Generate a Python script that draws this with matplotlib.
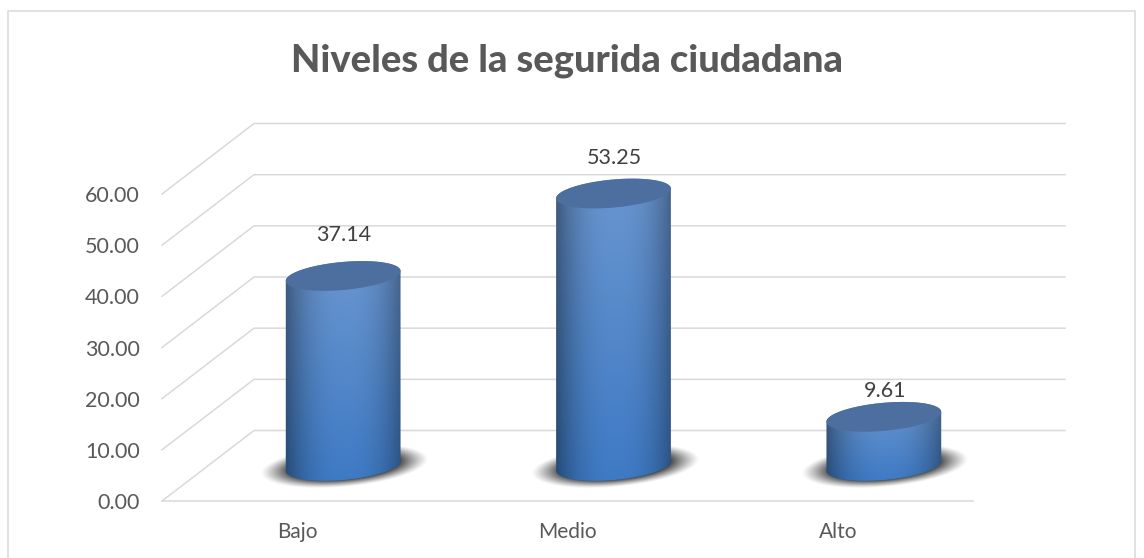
import numpy as np
import matplotlib
matplotlib.use("Agg")
import matplotlib.pyplot as plt
from matplotlib.patches import Polygon, Rectangle

# datos del grafico
categorias = ["Bajo", "Medio", "Alto"]
valores = [37.14, 53.25, 9.61]
etiquetas_y = [0, 10, 20, 30, 40, 50, 60]
titulo = "Niveles de la segurida ciudadana"

W, H = 1144, 558
plt.rcParams['font.family'] = ['Lato', 'DejaVu Sans']

fig = plt.figure(figsize=(W / 100, H / 100), dpi=100, facecolor='white')

# el eje es el plano frontal de la caja 3D
left, right, bottom, top = 162, 973, 501, 194
ax = fig.add_axes([left / W, 1 - bottom / H, (right - left) / W, (bottom - top) / H])
ax.patch.set_visible(False)
for s in ax.spines.values():
    s.set_visible(False)

px_x = (right - left) / 3      # pixeles por categoria
px_y = (bottom - top) / 60     # pixeles por unidad

# profundidad de la caja y desplazamiento de las barras
dx, dy = 92 / px_x, 70.5 / px_y
bar_dx, bar_dy = 46 / px_x, 35 / px_y
inclinacion = np.radians(5.2)
col_grid = '#d9d9d9'
lw_grid = 1.1

# rejilla
for v in etiquetas_y:
    ax.plot([-0.5, -0.5 + dx, 2.5 + dx], [v, v + dy, v + dy], color=col_grid,
            lw=lw_grid, clip_on=False, zorder=1, solid_joinstyle='miter')
ax.plot([-0.5, 2.5], [0, 0], color=col_grid, lw=lw_grid, clip_on=False, zorder=1)


def elipse(cx, cy, a, b, t):
    # elipse inclinada, a y b en pixeles, devuelve coordenadas de datos
    xp = a * np.cos(t) * np.cos(inclinacion) - b * np.sin(t) * np.sin(inclinacion)
    yp = a * np.cos(t) * np.sin(inclinacion) + b * np.sin(t) * np.cos(inclinacion)
    return cx + xp / px_x, cy + yp / px_y


def sombra(cx, cy):
    a, b = 84, 21
    xs = np.linspace(-a - 4, a + 4, 260)
    ys = np.linspace(-b - 14, b + 14, 120)
    X, Y = np.meshgrid(xs, ys)
    u = X * np.cos(inclinacion) + Y * np.sin(inclinacion)
    w = -X * np.sin(inclinacion) + Y * np.cos(inclinacion)
    r = np.sqrt((u / a) ** 2 + (w / b) ** 2)
    alpha = np.clip((1 - r) / 0.36, 0, 1) ** 1.2
    img = np.zeros(X.shape + (4,))
    img[..., :3] = 0.24
    img[..., 3] = alpha
    ax.imshow(img, origin='lower', aspect='auto', zorder=2, interpolation='bilinear',
              extent=[cx + xs[0] / px_x, cx + xs[-1] / px_x, cy + ys[0] / px_y, cy + ys[-1] / px_y])


def cilindro(cx, v):
    a, b = 57.6, 14
    y0 = bar_dy
    y1 = bar_dy + v
    t0 = np.arctan2(-b * np.sin(inclinacion), a * np.cos(inclinacion))
    sup = np.linspace(t0, t0 + np.pi, 80)      # mitad superior de la tapa
    inf = np.linspace(t0 + np.pi, t0 + 2 * np.pi, 80)  # mitad inferior de la base
    xa, ya = elipse(cx, y1, a, b, sup)
    xb, yb = elipse(cx, y0, a, b, inf)
    cuerpo = Polygon(np.column_stack([np.r_[xa, xb], np.r_[ya, yb]]), closed=True,
                     transform=ax.transData, fc='none', ec='none')
    ax.add_patch(cuerpo)

    # degradado: claro arriba y al centro, oscuro en los bordes
    n = 200
    u = np.linspace(-1, 1, n)
    vv = np.linspace(0, 1, n)
    U, V = np.meshgrid(u, vv)
    c_abajo = np.array([62, 122, 196]) / 255
    c_arriba = np.array([106, 150, 208]) / 255
    base = c_abajo + (c_arriba - c_abajo) * V[..., None]
    factor = 1 - 0.40 * np.abs(U - 0.03) ** 2.4
    img = base * factor[..., None]
    alto_px = b + 2
    ext = [cx - 60 / px_x, cx + 60 / px_x, y0 - alto_px / px_y, y1 + alto_px / px_y]
    im = ax.imshow(img, origin='lower', aspect='auto', extent=ext, zorder=3,
                   interpolation='bilinear')
    im.set_clip_box(fig.bbox)
    im.set_clip_path(cuerpo)

    # tapa
    t = np.linspace(0, 2 * np.pi, 160)
    xt, yt = elipse(cx, y1, a, b, t)
    ax.add_patch(Polygon(np.column_stack([xt, yt]), closed=True, fc='#4c6f9f', ec='none',
                         zorder=4, clip_on=False))


pos = np.arange(len(categorias))
for i, v in zip(pos, valores):
    sombra(i + bar_dx + 1 / px_x, bar_dy)
for i, v in zip(pos, valores):
    cilindro(i + bar_dx, v)

# etiquetas de datos, la distancia sobre la barra cambia en cada columna
sep_etiqueta = [41, 36, 26]
for i, v, sep in zip(pos, valores, sep_etiqueta):
    ax.text(i + bar_dx + 1 / px_x, v + bar_dy + sep / px_y, f"{v:.2f}", ha='center', va='center',
            fontsize=15.5, color='#404040', zorder=5, clip_on=False)

ax.set_xlim(-0.5, 2.5)
ax.set_ylim(0, 60)
ax.set_yticks(etiquetas_y)
ax.set_yticklabels([f"{v:.2f}" for v in etiquetas_y], fontsize=15.5, color='#595959')
ax.set_xticks(pos)
ax.set_xticklabels(categorias, fontsize=15, color='#595959')
ax.tick_params(axis='y', length=0, pad=16)
ax.tick_params(axis='x', length=0, pad=15)

fig.text(567 / W, 1 - 61 / H, titulo, ha='center', va='center', fontsize=27.4,
         fontweight='black', color='#595959')

# marco del grafico
fig.add_artist(Rectangle((8 / W, -0.05), (1135 - 8) / W, 1.05 - 11 / H, transform=fig.transFigure,
                         fc='none', ec=col_grid, lw=1.1))

fig.savefig("out.png", dpi=100)
